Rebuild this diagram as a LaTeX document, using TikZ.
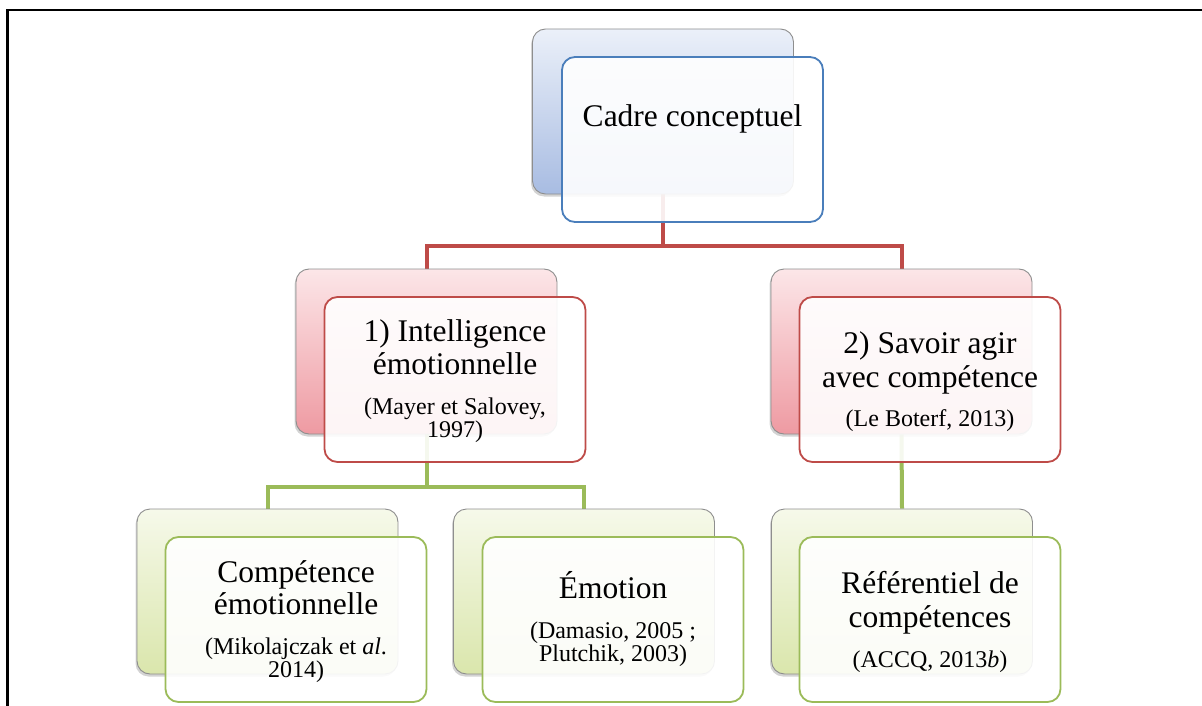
\documentclass[tikz,border=0pt]{standalone}
\usepackage{fontspec}
\setmainfont{Liberation Serif}
\usetikzlibrary{shadows}

\definecolor{blueback1}{HTML}{EBF0F9}
\definecolor{blueback2}{HTML}{A8BCE2}
\definecolor{redback1}{HTML}{FCE6E8}
\definecolor{redback2}{HTML}{EE9AA2}
\definecolor{greenback1}{HTML}{F6F9EA}
\definecolor{greenback2}{HTML}{DAE6AC}
\definecolor{blueedge}{HTML}{4A7EBB}
\definecolor{rededge}{HTML}{BE4B48}
\definecolor{greenedge}{HTML}{9BBB59}
\definecolor{backedge}{HTML}{8E8E8E}

\pgfdeclarelayer{bg}
\pgfsetlayers{bg,main}

\tikzset{
  box/.style={rectangle, rounded corners=13pt, minimum width=261pt,
    minimum height=165pt, inner sep=0pt},
  backbox/.style n args={2}{box, draw=backedge, line width=0.9pt,
    top color=#1, bottom color=#2,
    drop shadow={shadow xshift=-1.5pt, shadow yshift=-2.5pt, opacity=0.35}},
  frontbox/.style={box, draw=#1, line width=1.8pt, fill=white, fill opacity=0.9},
  bigtxt/.style={anchor=base, inner sep=0pt, font=\fontsize{31.5}{34}\selectfont},
  smalltxt/.style={anchor=base, inner sep=0pt, font=\fontsize{24}{25}\selectfont},
  redline/.style={draw=rededge, line width=4pt},
  greenline/.style={draw=greenedge, line width=4pt},
}

\begin{document}
\begin{tikzpicture}[x=1pt, y=-1pt]
\useasboundingbox (0,0) rectangle (1202,706);

% frame
\draw[line width=2.5pt] (7.5,706) -- (7.5,10) -- (1202,10);

% level 0
\node[backbox={blueback1}{blueback2}] (top-b) at (663,111.5) {};
\node[frontbox=blueedge] (top-f) at (692.5,139.5) {};
\node[bigtxt] (top-t) at (692.5,127) {Cadre conceptuel};

% level 1, left
\node[backbox={redback1}{redback2}] (ml-b) at (426.5,351.5) {};
\node[frontbox=rededge] (ml-f) at (455,379.5) {};
\node[bigtxt] (ml-t1) at (455,341) {1) Intelligence};
\node[bigtxt] (ml-t2) at (455,374) {émotionnelle};
\node[smalltxt] (ml-s1) at (455,414) {(Mayer et Salovey,};
\node[smalltxt] (ml-s2) at (455,437) {1997)};

% level 1, right
\node[backbox={redback1}{redback2}] (mr-b) at (901.5,351.5) {};
\node[frontbox=rededge] (mr-f) at (930,379.5) {};
\node[bigtxt] (mr-t1) at (930,353) {2) Savoir agir};
\node[bigtxt] (mr-t2) at (930,387) {avec compétence};
\node[smalltxt] (mr-s1) at (930,426) {(Le Boterf, 2013)};

% level 2, left
\node[backbox={greenback1}{greenback2}] (bl-b) at (267.5,591.5) {};
\node[frontbox=greenedge] (bl-f) at (296,619.5) {};
\node[bigtxt] (bl-t1) at (296,582) {Compétence};
\node[bigtxt] (bl-t2) at (296,614) {émotionnelle};
\node[smalltxt] (bl-s1) at (296,654) {(Mikolajczak et \textit{al}.};
\node[smalltxt] (bl-s2) at (296,677) {2014)};

% level 2, middle
\node[backbox={greenback1}{greenback2}] (bm-b) at (584,591.5) {};
\node[frontbox=greenedge] (bm-f) at (613,619.5) {};
\node[bigtxt] (bm-t1) at (613,598) {Émotion};
\node[smalltxt] (bm-s1) at (613,638) {(Damasio, 2005 ;};
\node[smalltxt] (bm-s2) at (613,661) {Plutchik, 2003)};

% level 2, right
\node[backbox={greenback1}{greenback2}] (br-b) at (902,591.5) {};
\node[frontbox=greenedge] (br-f) at (930,619.5) {};
\node[bigtxt] (br-t1) at (930,593) {Référentiel de};
\node[bigtxt] (br-t2) at (930,627) {compétences};
\node[smalltxt] (br-s1) at (930,667) {(ACCQ, 2013\textit{b})};

% connectors, behind the boxes
\coordinate (redbar) at (0,246);
\coordinate (greenbar) at (0,487);
\begin{pgfonlayer}{bg}
  \draw[redline] (top-b.south) -- (top-b.south |- redbar) -| (ml-b.north);
  \draw[redline] (top-b.south |- redbar) -| (mr-b.north);
  \draw[greenline] (ml-b.south) -- (ml-b.south |- greenbar) -| (bl-b.north);
  \draw[greenline] (ml-b.south |- greenbar) -| (bm-b.north);
  \draw[greenline] (mr-b.south) -- (br-b.north);
\end{pgfonlayer}
\end{tikzpicture}
\end{document}
